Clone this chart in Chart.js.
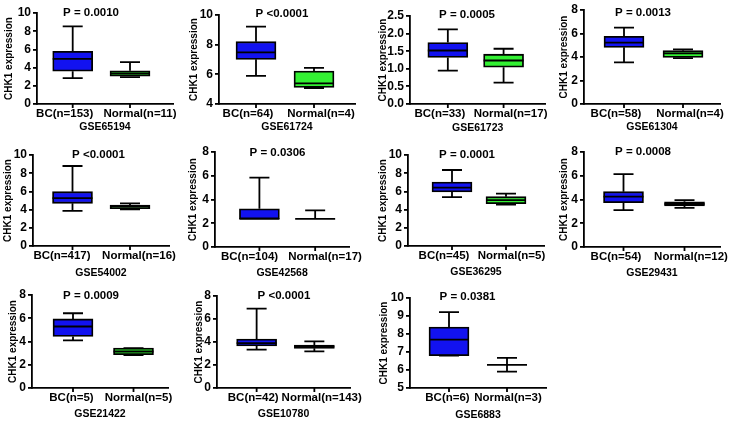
<!DOCTYPE html>
<html>
<head>
<meta charset="utf-8">
<script src="https://cdn.jsdelivr.net/npm/chart.js@4"></script>
<style>
  html, body { margin: 0; padding: 0; background: #fff; }
  #wrap { position: relative; width: 734px; height: 424px; overflow: hidden; }
  canvas { position: absolute; }
</style>
</head>
<body>
<div id="wrap"></div>
<script>
// data
const gseIds = ['GSE65194', 'GSE61724', 'GSE61723', 'GSE61304', 'GSE54002', 'GSE42568',
                'GSE36295', 'GSE29431', 'GSE21422', 'GSE10780', 'GSE6883'];
const pValues = ['P = 0.0010', 'P <0.0001', 'P = 0.0005', 'P = 0.0013', 'P <0.0001', 'P = 0.0306',
                 'P = 0.0001', 'P = 0.0008', 'P = 0.0009', 'P <0.0001', 'P = 0.0381'];
const bcLabels = ['BC(n=153)', 'BC(n=64)', 'BC(n=33)', 'BC(n=58)', 'BC(n=417)', 'BC(n=104)',
                  'BC(n=45)', 'BC(n=54)', 'BC(n=5)', 'BC(n=42)', 'BC(n=6)'];
const normalLabels = ['Normal(n=11)', 'Normal(n=4)', 'Normal(n=17)', 'Normal(n=4)', 'Normal(n=16)', 'Normal(n=17)',
                      'Normal(n=5)', 'Normal(n=12)', 'Normal(n=5)', 'Normal(n=143)', 'Normal(n=3)'];

// [min, q1, median, q3, max]
const bcStats = [
    [2.85, 3.61, 4.96, 5.80, 8.54],
    [5.89, 7.01, 7.48, 8.20, 9.21],
    [0.95, 1.32, 1.52, 1.745, 2.12],
    [3.55, 4.82, 5.22, 5.76, 6.50],
    [3.85, 4.69, 5.27, 5.97, 8.79],
    [2.37, 2.37, 2.37, 3.22, 5.85],
    [5.38, 5.93, 6.41, 7.03, 8.35],
    [3.11, 3.73, 4.24, 4.66, 6.13],
    [4.09, 4.43, 5.29, 5.94, 6.43],
    [3.34, 3.65, 3.90, 4.26, 6.91],
    [6.80, 6.80, 7.69, 8.39, 9.22]
];
const normalStats = [
    [2.95, 3.05, 3.35, 3.65, 4.60],
    [5.08, 5.12, 5.39, 6.22, 6.43],
    [0.61, 1.047, 1.236, 1.415, 1.57],
    [3.91, 3.97, 4.31, 4.54, 4.65],
    [4.03, 4.10, 4.32, 4.50, 4.69],
    [2.37, 2.37, 2.37, 2.37, 3.08],
    [4.54, 4.65, 5.05, 5.42, 5.75],
    [3.30, 3.45, 3.62, 3.81, 3.95],
    [2.83, 2.86, 3.14, 3.43, 3.43],
    [3.19, 3.45, 3.60, 3.74, 4.06],
    [5.91, 6.28, 6.28, 6.28, 6.67]
];
const yMin = [0, 4, 0, 0, 0, 0, 0, 0, 0, 0, 5];
const yMax = [10, 10, 2.5, 8, 10, 8, 10, 8, 8, 8, 10];
const yStep = [2, 1, 0.5, 2, 2, 2, 2, 2, 2, 2, 1];

// panel placement (pixels)
const panels = [
    { x: 0,   y: 0,   w: 184, h: 140, axisX: 37, top: 13, bottom: 104, c0: 35.7, c1: 93,    sh: [-8, 10],    ytx: 9,    px: 91,   py: 12.5, gy: 127 },
    { x: 184, y: 0,   w: 184, h: 140, axisX: 35, top: 15, bottom: 104, c0: 37,   c1: 95,    sh: [-8, 7],     ytx: 10,   px: 98,   py: 14,   gy: 127 },
    { x: 368, y: 0,   w: 184, h: 140, axisX: 42, top: 16, bottom: 104, c0: 38,   c1: 94,    sh: [-8, 7],     ytx: 15,   px: 99,   py: 15,   gy: 128 },
    { x: 552, y: 0,   w: 182, h: 140, axisX: 32, top: 10, bottom: 104, c0: 40,   c1: 99,    sh: [-8, 7],     ytx: 12,   px: 91,   py: 12.5, gy: 127 },
    { x: 0,   y: 140, w: 184, h: 140, axisX: 33, top: 15, bottom: 106, c0: 39.5, c1: 97,    sh: [-10.5, 9],  ytx: 8.5,  px: 98.5, py: 14.5, gy: 133 },
    { x: 184, y: 140, w: 184, h: 140, axisX: 31, top: 12, bottom: 107, c0: 45,   c1: 101.5, sh: [-10, 10],   ytx: 9,    px: 93.5, py: 12.5, gy: 133 },
    { x: 368, y: 140, w: 184, h: 140, axisX: 40, top: 15, bottom: 106, c0: 44,   c1: 98,    sh: [-8, 5.5],   ytx: 15,   px: 99,   py: 15,   gy: 132 },
    { x: 552, y: 140, w: 182, h: 140, axisX: 32, top: 12, bottom: 107, c0: 39.5, c1: 100.5, sh: [-7.5, 6.5], ytx: 12,   px: 91,   py: 12,   gy: 133 },
    { x: 0,   y: 280, w: 184, h: 144, axisX: 32, top: 15, bottom: 108, c0: 41,   c1: 101.5, sh: [-1.5, 5],   ytx: 13,   px: 91,   py: 16,   gy: 134 },
    { x: 184, y: 280, w: 184, h: 144, axisX: 33, top: 16, bottom: 108, c0: 40.5, c1: 99.5,  sh: [-3.5, 7.5], ytx: 15.5, px: 100,  py: 16,   gy: 134 },
    { x: 368, y: 280, w: 184, h: 144, axisX: 42, top: 18, bottom: 108, c0: 39,   c1: 97,    sh: [-1.5, 1],   ytx: 16.5, px: 99.5, py: 17,   gy: 135 }
];

const FONT = '"Liberation Sans", Arial, sans-serif';
Chart.defaults.font.family = FONT;
Chart.defaults.color = '#000';

const PLOT_W = 136;
const BOX_W = 40;
const CAP_W = 20;
const LINE_W = 1.8;
const blue = '#1212f0';
const green = '#33f033';

// whiskers, medians, x tick marks and the P value
function makeBoxPlugin(i) {
    const stats = [bcStats[i], normalStats[i]];
    const P = panels[i];
    return {
        id: 'boxWhiskers' + i,
        afterDatasetsDraw(chart) {
            const { ctx, scales: { x, y }, chartArea } = chart;
            ctx.save();
            ctx.strokeStyle = '#000';
            ctx.lineWidth = LINE_W;
            stats.forEach((s, k) => {
                const cx = x.getPixelForValue(k);
                const [mn, q1, md, q3, mx] = s.map(v => y.getPixelForValue(v));
                ctx.beginPath();
                ctx.moveTo(cx, q3); ctx.lineTo(cx, mx);
                ctx.moveTo(cx - CAP_W / 2, mx); ctx.lineTo(cx + CAP_W / 2, mx);
                ctx.moveTo(cx, q1); ctx.lineTo(cx, mn);
                ctx.moveTo(cx - CAP_W / 2, mn); ctx.lineTo(cx + CAP_W / 2, mn);
                ctx.moveTo(cx - BOX_W / 2, md); ctx.lineTo(cx + BOX_W / 2, md);
                ctx.moveTo(cx, chartArea.bottom); ctx.lineTo(cx, chartArea.bottom + 4);
                ctx.stroke();
            });
            ctx.font = 'bold 11.5px ' + FONT;
            ctx.fillStyle = '#000';
            ctx.textAlign = 'center';
            ctx.textBaseline = 'middle';
            ctx.fillText(pValues[i], P.px, P.py);
            ctx.restore();
        }
    };
}

const wrap = document.getElementById('wrap');

panels.forEach((P, i) => {
    const canvas = document.createElement('canvas');
    canvas.width = P.w;
    canvas.height = P.h;
    canvas.style.left = P.x + 'px';
    canvas.style.top = P.y + 'px';
    canvas.style.width = P.w + 'px';
    canvas.style.height = P.h + 'px';
    wrap.appendChild(canvas);

    const unit = P.c1 - P.c0;
    const xMin = -P.c0 / unit;
    const xMax = xMin + PLOT_W / unit;
    const labels = [bcLabels[i], normalLabels[i]];
    const yTitleLH = 12;
    const xTitleLH = 12.6;
    const padLeft = P.ytx - yTitleLH / 2;
    const padBottom = P.h - P.gy - xTitleLH / 2;

    new Chart(canvas, {
        type: 'bar',
        data: {
            datasets: [{
                data: [
                    { x: 0, y: [bcStats[i][1], bcStats[i][3]] },
                    { x: 1, y: [normalStats[i][1], normalStats[i][3]] }
                ],
                backgroundColor: [blue, green],
                borderColor: '#000',
                borderWidth: LINE_W,
                borderSkipped: false,
                barThickness: BOX_W
            }]
        },
        options: {
            responsive: false,
            devicePixelRatio: 1,
            animation: false,
            layout: {
                padding: { left: padLeft, top: P.top, right: P.w - P.axisX - PLOT_W, bottom: padBottom }
            },
            plugins: {
                legend: { display: false },
                tooltip: { enabled: false }
            },
            scales: {
                x: {
                    type: 'linear',
                    offset: false,
                    min: xMin,
                    max: xMax,
                    afterBuildTicks: function (scale) {
                        scale.ticks = [{ value: P.sh[0] / unit }, { value: 1 + P.sh[1] / unit }];
                    },
                    afterFit: function (scale) {
                        scale.height = P.gy + xTitleLH / 2 - P.bottom;
                    },
                    ticks: {
                        autoSkip: false,
                        maxRotation: 0,
                        padding: 3,
                        color: '#000',
                        font: { size: 11.5, weight: 'bold' },
                        callback: function (value, index) {
                            return labels[index];
                        }
                    },
                    grid: { offset: false, drawOnChartArea: false, drawTicks: false },
                    border: { color: '#000', width: LINE_W },
                    title: {
                        display: true,
                        text: gseIds[i],
                        color: '#000',
                        padding: 0,
                        font: { size: 10.5, weight: 'bold' }
                    }
                },
                y: {
                    min: yMin[i],
                    max: yMax[i],
                    afterFit: function (scale) {
                        scale.width = P.axisX - padLeft;
                    },
                    ticks: {
                        stepSize: yStep[i],
                        padding: 2,
                        color: '#000',
                        font: { size: 12, weight: 'bold' },
                        callback: function (value) {
                            return yStep[i] < 1 ? value.toFixed(1) : value;
                        }
                    },
                    grid: { drawOnChartArea: false, color: '#000', lineWidth: LINE_W, tickLength: 4 },
                    border: { color: '#000', width: LINE_W },
                    title: {
                        display: true,
                        text: 'CHK1 expression',
                        color: '#000',
                        padding: 0,
                        font: { size: 10, weight: 'bold' }
                    }
                }
            }
        },
        plugins: [makeBoxPlugin(i)]
    });
});
</script>
</body>
</html>
